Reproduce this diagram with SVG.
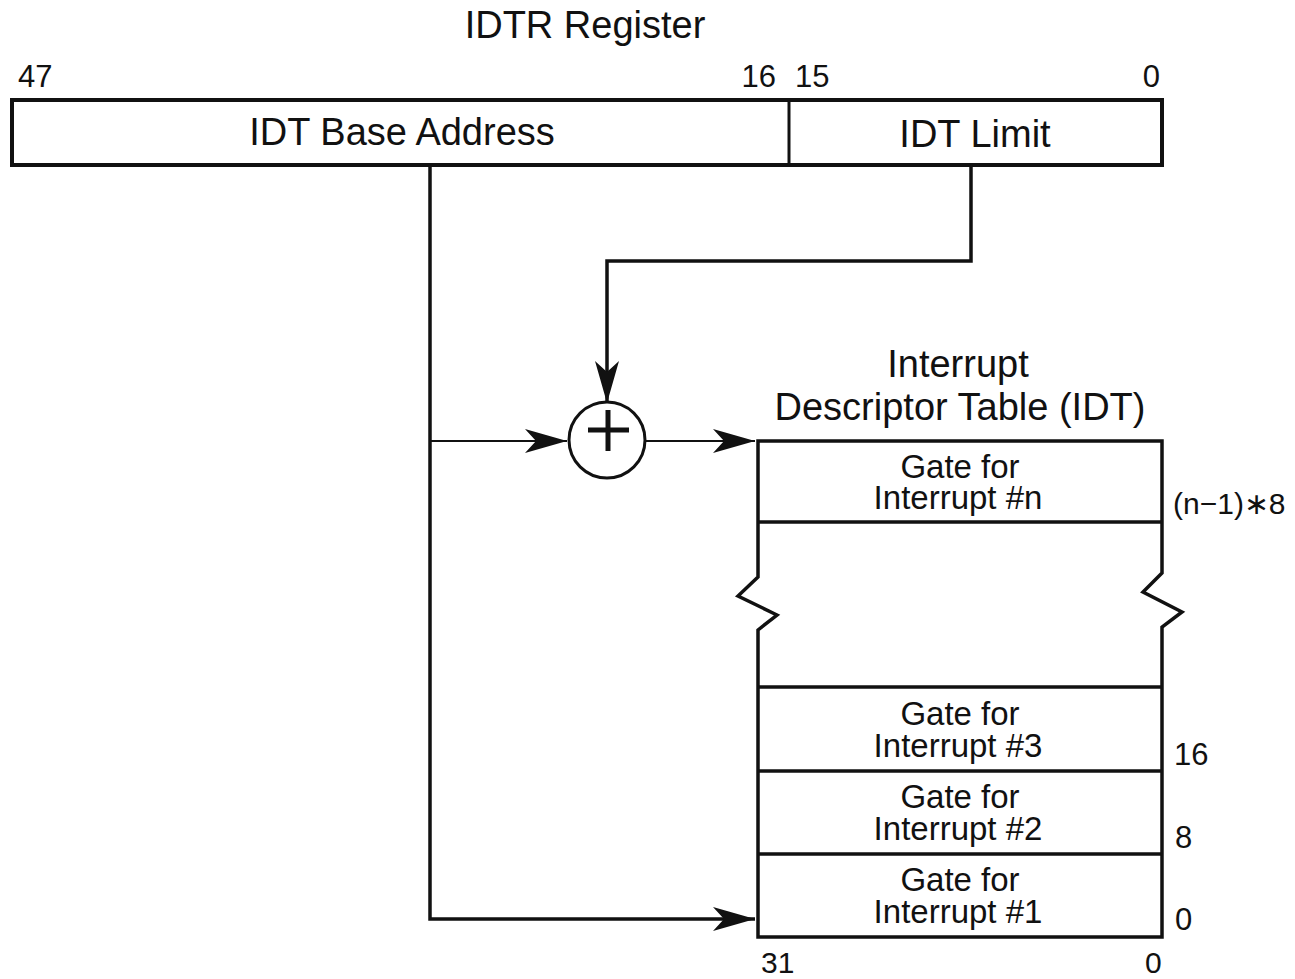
<svg xmlns="http://www.w3.org/2000/svg" width="1295" height="979" viewBox="0 0 1295 979">
<style>
text{font-family:"Liberation Sans",Arial,sans-serif;fill:#111}
.big{font-size:38px}
.num{font-size:31px}
.cell{font-size:33px;text-anchor:middle}
.box{fill:#fff;stroke:#111;stroke-width:4}
.ln{fill:none;stroke:#111;stroke-width:3.5}
.thin{fill:none;stroke:#111;stroke-width:2}
</style>
<defs>
<marker id="arr" markerUnits="userSpaceOnUse" viewBox="0 0 42 24" markerWidth="42" markerHeight="24" refX="42" refY="12" orient="auto">
<path d="M0,0 L42,12 L0,24 L11,12 Z" fill="#111"/>
</marker>
</defs>
<rect width="1295" height="979" fill="#fff"/>
<g id="title"><text class="big" x="585" y="38" text-anchor="middle">IDTR Register</text></g>
<g id="idtr">
<rect class="box" x="12" y="100" width="1150" height="65"/>
<line x1="789" y1="100" x2="789" y2="165" stroke="#111" stroke-width="3"/>
<text class="big" x="402" y="145" text-anchor="middle">IDT Base Address</text>
<text class="big" x="975" y="147" text-anchor="middle">IDT Limit</text>
<text class="num" x="18" y="87">47</text>
<text class="num" x="776" y="87" text-anchor="end">16</text>
<text class="num" x="795" y="87">15</text>
<text class="num" x="1160" y="87" text-anchor="end">0</text>
</g>
<g id="adder">
<circle cx="607" cy="440" r="38" fill="#fff" stroke="#111" stroke-width="3"/>
<line x1="588" y1="430" x2="629" y2="430" stroke="#111" stroke-width="5"/>
<line x1="608" y1="410" x2="608" y2="451" stroke="#111" stroke-width="5"/>
</g>
<g id="idt">
<text class="big" x="958" y="377" text-anchor="middle">Interrupt</text>
<text class="big" x="960" y="420" text-anchor="middle">Descriptor Table (IDT)</text>
<path class="ln" d="M758,441 H1162 V573 L1143,592 L1182,612 L1162,627 V937 H758 V630 L777,615 L738,596 L758,577 Z" fill="#fff"/>
<line class="ln" x1="758" y1="522" x2="1162" y2="522"/>
<line class="ln" x1="758" y1="687" x2="1162" y2="687"/>
<line class="ln" x1="758" y1="771" x2="1162" y2="771"/>
<line class="ln" x1="758" y1="854" x2="1162" y2="854"/>
<text class="cell" x="960" y="478">Gate for</text>
<text class="cell" x="958" y="509">Interrupt #n</text>
<text class="cell" x="960" y="725">Gate for</text>
<text class="cell" x="958" y="757">Interrupt #3</text>
<text class="cell" x="960" y="808">Gate for</text>
<text class="cell" x="958" y="840">Interrupt #2</text>
<text class="cell" x="960" y="891">Gate for</text>
<text class="cell" x="958" y="923">Interrupt #1</text>
<text class="num" x="1173" y="514" style="font-size:30px">(n−1)∗8</text>
<text class="num" x="1174" y="765">16</text>
<text class="num" x="1175" y="848">8</text>
<text class="num" x="1175" y="930">0</text>
<text class="num" x="761" y="973" style="font-size:30px">31</text>
<text class="num" x="1145" y="973" style="font-size:30px">0</text>
</g>
<g id="connectors">
<polyline class="ln" points="430,165 430,919 755,919" marker-end="url(#arr)"/>
<line class="thin" x1="430" y1="441" x2="567" y2="441" marker-end="url(#arr)"/>
<polyline class="ln" points="971,165 971,261 607,261 607,403" marker-end="url(#arr)"/>
<line class="thin" x1="645" y1="441" x2="755" y2="441" marker-end="url(#arr)"/>
</g>
</svg>
